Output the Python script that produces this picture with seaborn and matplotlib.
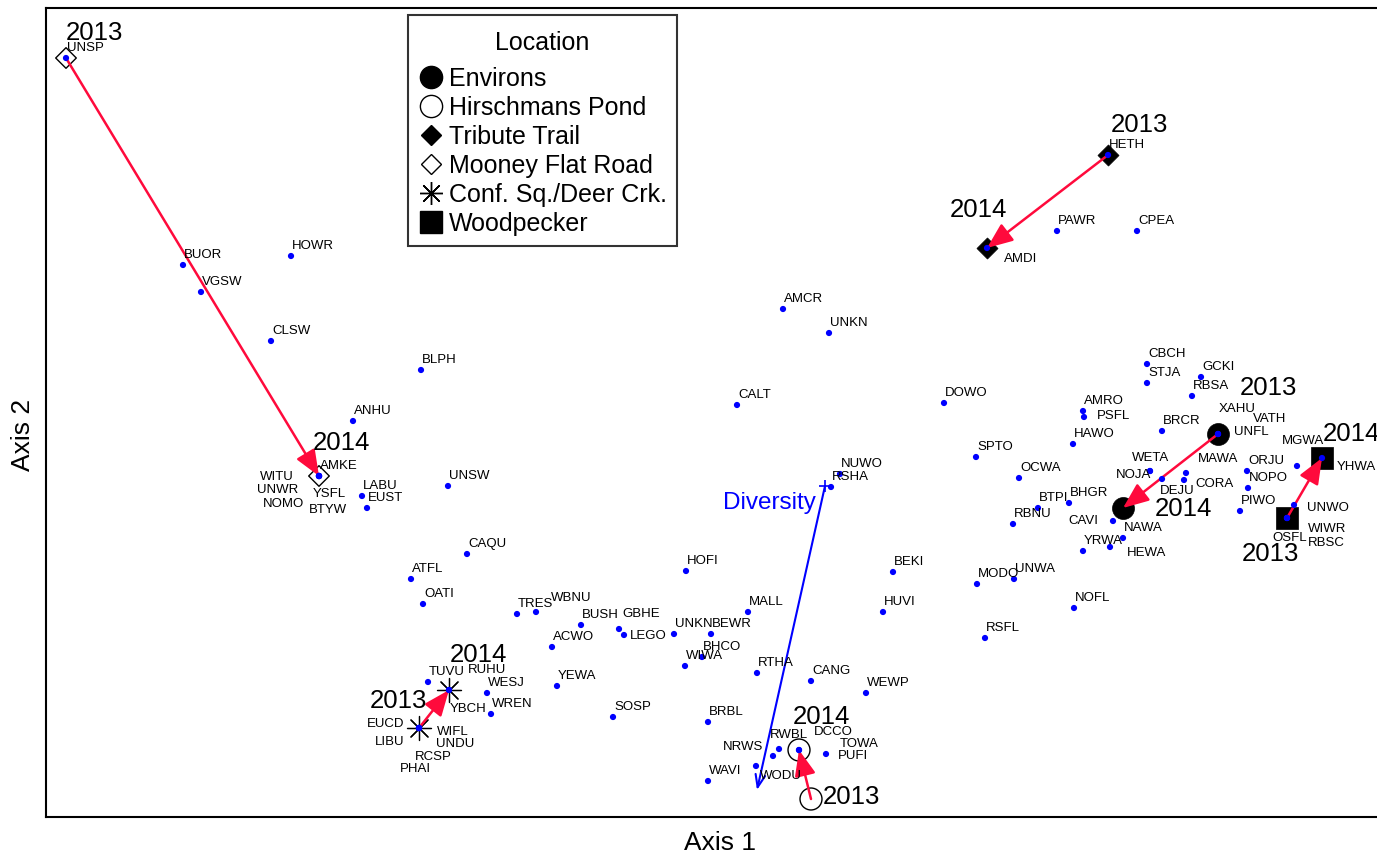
import matplotlib
matplotlib.use("Agg")
import matplotlib.pyplot as plt
from matplotlib.lines import Line2D
import pandas as pd
import seaborn as sns

# ---- species scores (Axis 1, Axis 2) ----
species = [
    "UNSP", "BUOR", "VGSW", "HOWR", "CLSW", "BLPH", "ANHU",
    "AMKE", "WITU", "UNWR", "NOMO", "YSFL", "BTYW", "LABU", "EUST", "UNSW",
    "CAQU", "ATFL", "OATI", "TRES", "WBNU", "BUSH", "GBHE", "LEGO", "ACWO",
    "UNKN", "BEWR", "BHCO", "WIWA", "MALL", "HOFI", "YEWA", "SOSP", "RTHA",
    "CANG", "WEWP", "BRBL", "NRWS", "RWBL", "WODU", "WAVI", "DCCO", "TOWA",
    "PUFI", "AMCR", "UNKN", "CALT", "NUWO", "RSHA", "BEKI", "HUVI", "DOWO",
    "SPTO", "OCWA", "MODO", "UNWA", "RSFL", "NOFL", "HAWO", "AMRO", "PSFL",
    "CBCH", "STJA", "GCKI", "RBSA", "BRCR", "XAHU", "VATH", "UNFL", "WETA",
    "NOJA", "DEJU", "MAWA", "CORA", "ORJU", "NOPO", "PIWO", "MGWA", "YHWA",
    "UNWO", "OSFL", "WIWR", "RBSC", "BTPI", "BHGR", "RBNU", "CAVI", "NAWA",
    "YRWA", "HEWA", "HETH", "AMDI", "PAWR", "CPEA", "TUVU", "RUHU", "YBCH",
    "WESJ", "WREN", "EUCD", "LIBU", "WIFL", "UNDU", "RCSP", "PHAI",
]
axis1 = [
    20, 137, 155, 245, 225, 375, 307,
    273, 273, 273, 273, 273, 273, 316, 321, 402,
    421, 365, 377, 471, 490, 535, 573, 578, 506,
    628, 665, 656, 639, 702, 640, 511, 567, 711,
    765, 820, 662, 727, 733, 710, 662, 753, 753,
    780, 737, 783, 691, 794, 785, 847, 837, 898,
    930, 973, 931, 968, 939, 1028, 1027, 1037, 1038,
    1101, 1101, 1155, 1146, 1116, 1172, 1172, 1172, 1104,
    1104, 1116, 1140, 1138, 1201, 1202, 1194, 1251, 1276,
    1248, 1241, 1241, 1241, 992, 1023, 967, 1067, 1077,
    1037, 1064, 1062, 941, 1011, 1091, 382, 403, 403,
    441, 445, 373, 373, 373, 373, 373, 373,
]
axis2 = [
    759, 552, 525, 561, 476, 447, 396,
    341, 341, 341, 341, 341, 341, 321, 309, 331,
    263, 238, 213, 203, 205, 192, 188, 182, 170,
    183, 183, 160, 151, 205, 246, 131, 100, 144,
    136, 124, 95, 61, 68, 51, 36, 67, 67,
    63, 508, 484, 412, 343, 330, 245, 205, 414,
    360, 339, 233, 238, 179, 209, 373, 406, 400,
    453, 434, 440, 421, 386, 383, 383, 383, 346,
    346, 338, 344, 337, 346, 329, 306, 351, 359,
    312, 299, 299, 299, 309, 314, 293, 296, 279,
    266, 270, 662, 569, 586, 586, 135, 127, 127,
    124, 103, 89, 89, 89, 89, 89, 89,
]

# ---- sample units: location x year ----
site_location = [
    "Environs", "Environs",
    "Hirschmans Pond", "Hirschmans Pond",
    "Tribute Trail", "Tribute Trail",
    "Mooney Flat Road", "Mooney Flat Road",
    "Conf. Sq./Deer Crk.", "Conf. Sq./Deer Crk.",
    "Woodpecker", "Woodpecker",
]
site_year = ["2013", "2014"] * 6
site_axis1 = [1172, 1077, 765, 753, 1062, 941, 20, 273, 373, 403, 1241, 1276]
site_axis2 = [383, 309, 18, 67, 662, 569, 759, 341, 89, 127, 299, 359]

# ---- joint-plot vector ----
vector_name = "Diversity"
vector_start = (779, 331)
vector_end = (711, 27)

species_df = pd.DataFrame({"species": species, "Axis 1": axis1, "Axis 2": axis2})
sites_df = pd.DataFrame({"Location": site_location, "Year": site_year,
                         "Axis 1": site_axis1, "Axis 2": site_axis2})

# label placement (pixels, relative to each point)
default_offset = (1, 7)
label_offsets = {
    "WITU": (-59, -4), "UNWR": (-62, -17), "NOMO": (-56, -31),
    "YSFL": (-6, -21), "BTYW": (-10, -37), "WBNU": (15, 11),
    "GBHE": (3, 12), "LEGO": (6, -4), "NRWS": (-50, 6), "RWBL": (-9, 11),
    "WODU": (4, -13), "DCCO": (15, 15), "TOWA": (41, 3), "PUFI": (12, -5),
    "PSFL": (13, -2), "XAHU": (1, 22), "VATH": (35, 12), "UNFL": (16, -1),
    "WETA": (-18, 10), "NOJA": (-34, -7), "DEJU": (-2, -15),
    "MAWA": (12, 11), "CORA": (11, -7), "MGWA": (-15, 22),
    "YHWA": (15, -12), "UNWO": (13, -6), "OSFL": (-15, -23),
    "WIWR": (21, -14), "RBSC": (21, -28), "CAVI": (-45, -3),
    "HEWA": (17, -9), "AMDI": (17, -14), "RUHU": (19, 17), "YBCH": (1, -22),
    "EUCD": (-52, 1), "LIBU": (-44, -17), "WIFL": (18, -7),
    "UNDU": (17, -19), "RCSP": (-4, -32), "PHAI": (-19, -44),
}
year_offsets = {
    ("Environs", "2013"): (22, 39), ("Environs", "2014"): (32, -8),
    ("Hirschmans Pond", "2013"): (12, -5), ("Hirschmans Pond", "2014"): (-6, 26),
    ("Tribute Trail", "2013"): (3, 23), ("Tribute Trail", "2014"): (-37, 31),
    ("Mooney Flat Road", "2013"): (0, 18), ("Mooney Flat Road", "2014"): (-6, 26),
    ("Conf. Sq./Deer Crk.", "2013"): (-49, 20), ("Conf. Sq./Deer Crk.", "2014"): (1, 28),
    ("Woodpecker", "2013"): (-45, -43), ("Woodpecker", "2014"): (1, 17),
}

# marker styles per location: (marker, face, size for scatter, legend size)
location_style = {
    "Environs": ("o", "black", 250, 16),
    "Hirschmans Pond": ("o", "none", 250, 16),
    "Tribute Trail": ("D", "black", 115, 10.5),
    "Mooney Flat Road": ("D", "none", 110, 10.5),
    "Conf. Sq./Deer Crk.": ((8, 2, 0), "black", 300, 16.5),
    "Woodpecker": ("s", "black", 250, 15.5),
}

sns.set_style("white")
plt.rcParams["font.family"] = ["Liberation Sans", "DejaVu Sans"]

fig = plt.figure(figsize=(13.77, 8.56), dpi=100)
ax = fig.add_axes([46 / 1377, 39 / 856, 1334 / 1377, 809 / 856])
ax.set_xlim(0, 1334)
ax.set_ylim(0, 809)
for sp in ax.spines.values():
    sp.set_color("black")
    sp.set_linewidth(1.5)

red = "#ff0a3c"
blue = "#0000ff"

# sample-unit markers
for loc, (mk, face, size, _) in location_style.items():
    sub = sites_df[sites_df["Location"] == loc]
    if face == "none":
        sns.scatterplot(data=sub, x="Axis 1", y="Axis 2", marker=mk, s=size,
                        facecolor="none", edgecolor="black", linewidth=1.0,
                        ax=ax, zorder=2, legend=False)
    elif isinstance(mk, tuple):
        sns.scatterplot(data=sub, x="Axis 1", y="Axis 2", marker=mk, s=size,
                        color="black", linewidth=0.9, ax=ax, zorder=2, legend=False)
    else:
        sns.scatterplot(data=sub, x="Axis 1", y="Axis 2", marker=mk, s=size,
                        color="black", edgecolor="black", linewidth=0.5,
                        ax=ax, zorder=2, legend=False)

# successional arrows 2013 -> 2014
for loc in location_style:
    sub = sites_df[sites_df["Location"] == loc].set_index("Year")
    p0 = (sub.loc["2013", "Axis 1"], sub.loc["2013", "Axis 2"])
    p1 = (sub.loc["2014", "Axis 1"], sub.loc["2014", "Axis 2"])
    ax.annotate("", xy=p1, xytext=p0, zorder=3,
                arrowprops=dict(arrowstyle="-|>,head_length=1.05,head_width=0.43",
                                color=red, lw=1.8, mutation_scale=15,
                                shrinkA=0, shrinkB=0))

# year labels
for _, row in sites_df.iterrows():
    dx, dy = year_offsets[(row["Location"], row["Year"])]
    ax.annotate(row["Year"], (row["Axis 1"], row["Axis 2"]), xytext=(dx, dy),
                textcoords="offset pixels", ha="left", va="baseline",
                fontsize=18.5, color="black", zorder=6, annotation_clip=False)

# species points and labels
sns.scatterplot(data=species_df, x="Axis 1", y="Axis 2", color=blue, s=20,
                edgecolor="none", linewidth=0, ax=ax, zorder=4, legend=False)
for _, row in species_df.iterrows():
    dx, dy = label_offsets.get(row["species"], default_offset)
    ax.annotate(row["species"], (row["Axis 1"], row["Axis 2"]), xytext=(dx, dy),
                textcoords="offset pixels", ha="left", va="baseline",
                fontsize=9.5, color="black", zorder=5, annotation_clip=False)

# diversity vector
ax.annotate("", xy=vector_end, xytext=vector_start, zorder=3,
            arrowprops=dict(arrowstyle="->,head_length=0.9,head_width=0.35",
                            color=blue, lw=1.5, mutation_scale=10,
                            shrinkA=0, shrinkB=0))
ax.scatter([vector_start[0]], [vector_start[1]], marker="+", s=80,
           color=blue, linewidth=1.2, zorder=4)
ax.annotate(vector_name, vector_start, xytext=(-9, -23), textcoords="offset pixels",
            ha="right", va="baseline", fontsize=17.5, color=blue, zorder=5)

# legend
handles = []
for loc, (mk, face, _, lsize) in location_style.items():
    if isinstance(mk, tuple):
        h = Line2D([], [], marker=mk, linestyle="none", color="black",
                   markersize=lsize, markeredgewidth=1.0, label=loc)
    else:
        h = Line2D([], [], marker=mk, linestyle="none",
                   markerfacecolor=face, markeredgecolor="black",
                   markersize=lsize, markeredgewidth=1.0, label=loc)
    handles.append(h)
leg = ax.legend(handles=handles, title="Location", loc="upper left",
                bbox_to_anchor=(408 / 1377, 1 - 15 / 856),
                bbox_transform=fig.transFigure, borderaxespad=0,
                fontsize=18, title_fontsize=18, frameon=True, fancybox=False,
                handlelength=1.0, handletextpad=0.24, borderpad=0.4,
                labelspacing=0.2)
# extra room between the legend title and its entries
leg._legend_box.sep = 13
leg.get_title().set_y(-6)
leg.get_frame().set_edgecolor("black")
leg.get_frame().set_linewidth(1.5)
for t in leg.get_texts():
    t.set_color("black")
leg.get_title().set_color("black")
leg.set_zorder(7)

# axis titles; the ordination axes carry no tick values
ax.set_xticks([])
ax.set_yticks([])
ax.set_xlabel("")
ax.set_ylabel("")
fig.text(720 / 1377, 1 - 843 / 856, "Axis 1", ha="center", va="center",
         fontsize=19, color="black")
fig.text(23 / 1377, 1 - 435 / 856, "Axis 2", ha="center", va="center",
         rotation=90, fontsize=19, color="black")

fig.savefig("out.png", dpi=100)
